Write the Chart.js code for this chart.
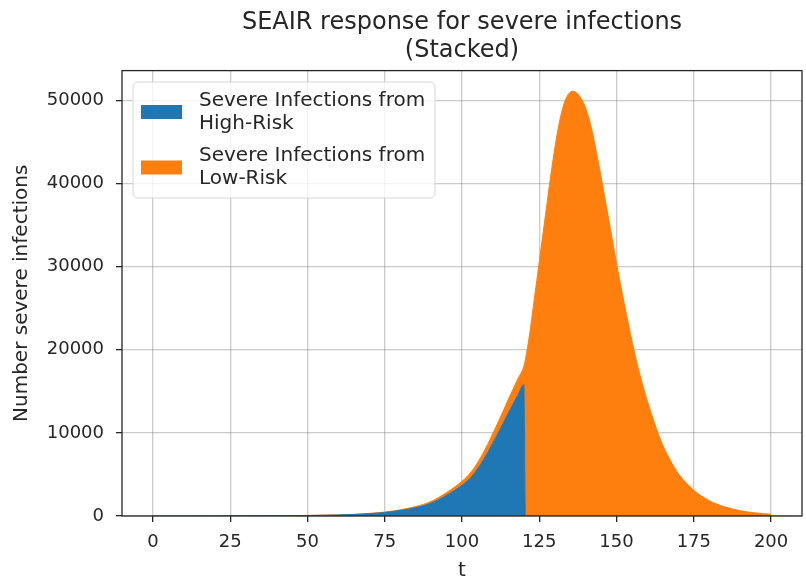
<!DOCTYPE html>
<html>
<head>
<meta charset="utf-8">
<script src="https://cdn.jsdelivr.net/npm/chart.js@4.4.1/dist/chart.umd.min.js"></script>
<style>
  html, body { margin: 0; padding: 0; background: #fff; }
  #wrap { width: 806px; height: 578px; }
</style>
</head>
<body>
<div id="wrap"><canvas id="chart1" width="806" height="578"></canvas></div>
<script>
// time steps (days)
const tVals = [0, 10, 20, 30, 40, 50, 60, 65, 70, 75, 80, 85, 90, 95, 100, 103, 106, 109, 112, 115, 118, 120,
  120.5, 122, 123, 124, 125, 126, 127, 128, 129, 130, 131, 132, 133, 134, 135, 136, 137, 138, 139, 140,
  141, 142, 143, 144, 145, 146, 148, 150, 152, 154, 156, 158, 160, 162, 164, 166, 168, 170, 175, 180, 185, 190, 195, 200];

// severe infections from high-risk group (bottom layer)
const highRisk = [2, 4, 8, 15, 30, 60, 120, 180, 280, 420, 660, 1000, 1550, 2500, 3700, 4700, 6200, 8100, 10200, 12400, 14500, 15800,
  0, 0, 0, 0, 0, 0, 0, 0, 0, 0, 0, 0, 0, 0, 0, 0, 0, 0, 0, 0,
  0, 0, 0, 0, 0, 0, 0, 0, 0, 0, 0, 0, 0, 0, 0, 0, 0, 0, 0, 0, 0, 0, 0, 0];

// severe infections from low-risk group (stacked on top)
const lowRisk = [0, 1, 1, 2, 4, 8, 15, 22, 35, 55, 85, 130, 200, 320, 480, 620, 820, 1060, 1340, 1640, 1950, 2200,
  18800, 22200, 25000, 27800, 30600, 33400, 36200, 39000, 41700, 44200, 46400, 48200, 49600, 50500, 51000, 51100, 50950, 50550, 49950, 49100,
  47950, 46500, 44700, 42800, 40800, 38750, 34600, 30400, 26500, 22800, 19400, 16400, 13800, 11500, 9400, 7700, 6300, 5100, 3100, 1850, 1100, 640, 370, 200];

const xTicks = [0, 25, 50, 75, 100, 125, 150, 175, 200];
const yTicks = [0, 10000, 20000, 30000, 40000, 50000];

const seriesLabels = [
  ['Severe Infections from', 'High-Risk'],
  ['Severe Infections from', 'Low-Risk']
];
const seriesColors = ['#1f77b4', '#ff7f0e'];

const toPts = (arr) => tVals.map((t, i) => ({x: t, y: arr[i]}));

const FONT = "'DejaVu Sans', sans-serif";
const TXT = '#262626';

// draw the four spines
const frame = {
  id: 'frame',
  afterDraw(chart) {
    const a = chart.chartArea, c = chart.ctx;
    c.save();
    c.strokeStyle = TXT;
    c.lineWidth = 1.3;
    c.strokeRect(a.left, a.top, a.right - a.left, a.bottom - a.top);
    c.restore();
  }
};

// matplotlib-like legend with two-line labels
const mplLegend = {
  id: 'mplLegend',
  afterDraw(chart) {
    const c = chart.ctx;
    const x0 = 133, y0 = 82, w = 302, h = 116, r = 5;
    c.save();
    c.beginPath();
    c.moveTo(x0 + r, y0);
    c.arcTo(x0 + w, y0, x0 + w, y0 + h, r);
    c.arcTo(x0 + w, y0 + h, x0, y0 + h, r);
    c.arcTo(x0, y0 + h, x0, y0, r);
    c.arcTo(x0, y0, x0 + w, y0, r);
    c.closePath();
    c.fillStyle = 'rgba(255,255,255,0.8)';
    c.fill();
    c.strokeStyle = '#d6d6d6';
    c.lineWidth = 1;
    c.stroke();
    c.font = '20px ' + FONT;
    c.textBaseline = 'middle';
    const centers = [112, 167.5];
    chart.data.datasets.forEach((ds, i) => {
      const cy = centers[i];
      c.fillStyle = ds.backgroundColor;
      c.fillRect(141, cy - 7, 41, 14);
      c.fillStyle = TXT;
      c.fillText(ds.label[0], 199, cy - 11.5);
      c.fillText(ds.label[1], 199, cy + 11.5);
    });
    c.restore();
  }
};

const ctx = document.getElementById('chart1').getContext('2d');
const data = {
  datasets: [{
      label: seriesLabels[0],
      data: toPts(highRisk),
      backgroundColor: seriesColors[0],
      borderColor: seriesColors[0],
      borderWidth: 1,
      pointRadius: 0,
      fill: 'origin'
    },
    {
      label: seriesLabels[1],
      data: toPts(lowRisk),
      backgroundColor: seriesColors[1],
      borderColor: seriesColors[1],
      borderWidth: 1,
      pointRadius: 0,
      fill: '-1'
    }
  ]
};

const config = {
  type: 'line',
  data: data,
  plugins: [frame, mplLegend],
  options: {
    responsive: false,
    maintainAspectRatio: false,
    animation: false,
    cubicInterpolationMode: 'monotone',
    layout: {
      padding: {left: 0, right: 4, top: 0, bottom: 0}
    },
    plugins: {
      legend: {display: false},
      tooltip: {enabled: false},
      title: {
        display: true,
        fullSize: false,
        text: ['SEAIR response for severe infections', '(Stacked)'],
        color: TXT,
        font: {family: FONT, size: 24, weight: 'normal', lineHeight: 1.2},
        padding: {top: 8, bottom: 5}
      }
    },
    scales: {
      x: {
        type: 'linear',
        min: -10,
        max: 210,
        z: 1,
        afterBuildTicks: (s) => { s.ticks = xTicks.map(v => ({value: v})); },
        afterFit: (s) => { s.height = 62; },
        grid: {color: 'rgba(140,140,140,0.45)', lineWidth: 1.3, tickColor: TXT, tickLength: 6},
        border: {display: false},
        ticks: {color: TXT, font: {family: FONT, size: 18}, padding: 10, maxRotation: 0},
        title: {display: true, text: 't', color: TXT, font: {family: FONT, size: 20}, padding: {top: 0, bottom: -5}}
      },
      y: {
        type: 'linear',
        stacked: true,
        min: 0,
        max: 53600,
        z: 1,
        afterBuildTicks: (s) => { s.ticks = yTicks.map(v => ({value: v})); },
        afterFit: (s) => { s.width = 122; },
        grid: {color: 'rgba(140,140,140,0.45)', lineWidth: 1.3, tickColor: TXT, tickLength: 6},
        border: {display: false},
        ticks: {color: TXT, font: {family: FONT, size: 18}, padding: 12, callback: (v) => String(v)},
        title: {display: true, text: 'Number severe infections', color: TXT, font: {family: FONT, size: 20}, padding: {top: 10, bottom: 0}}
      }
    }
  }
};

var myChart1 = new Chart(ctx, config);
</script>
</body>
</html>
